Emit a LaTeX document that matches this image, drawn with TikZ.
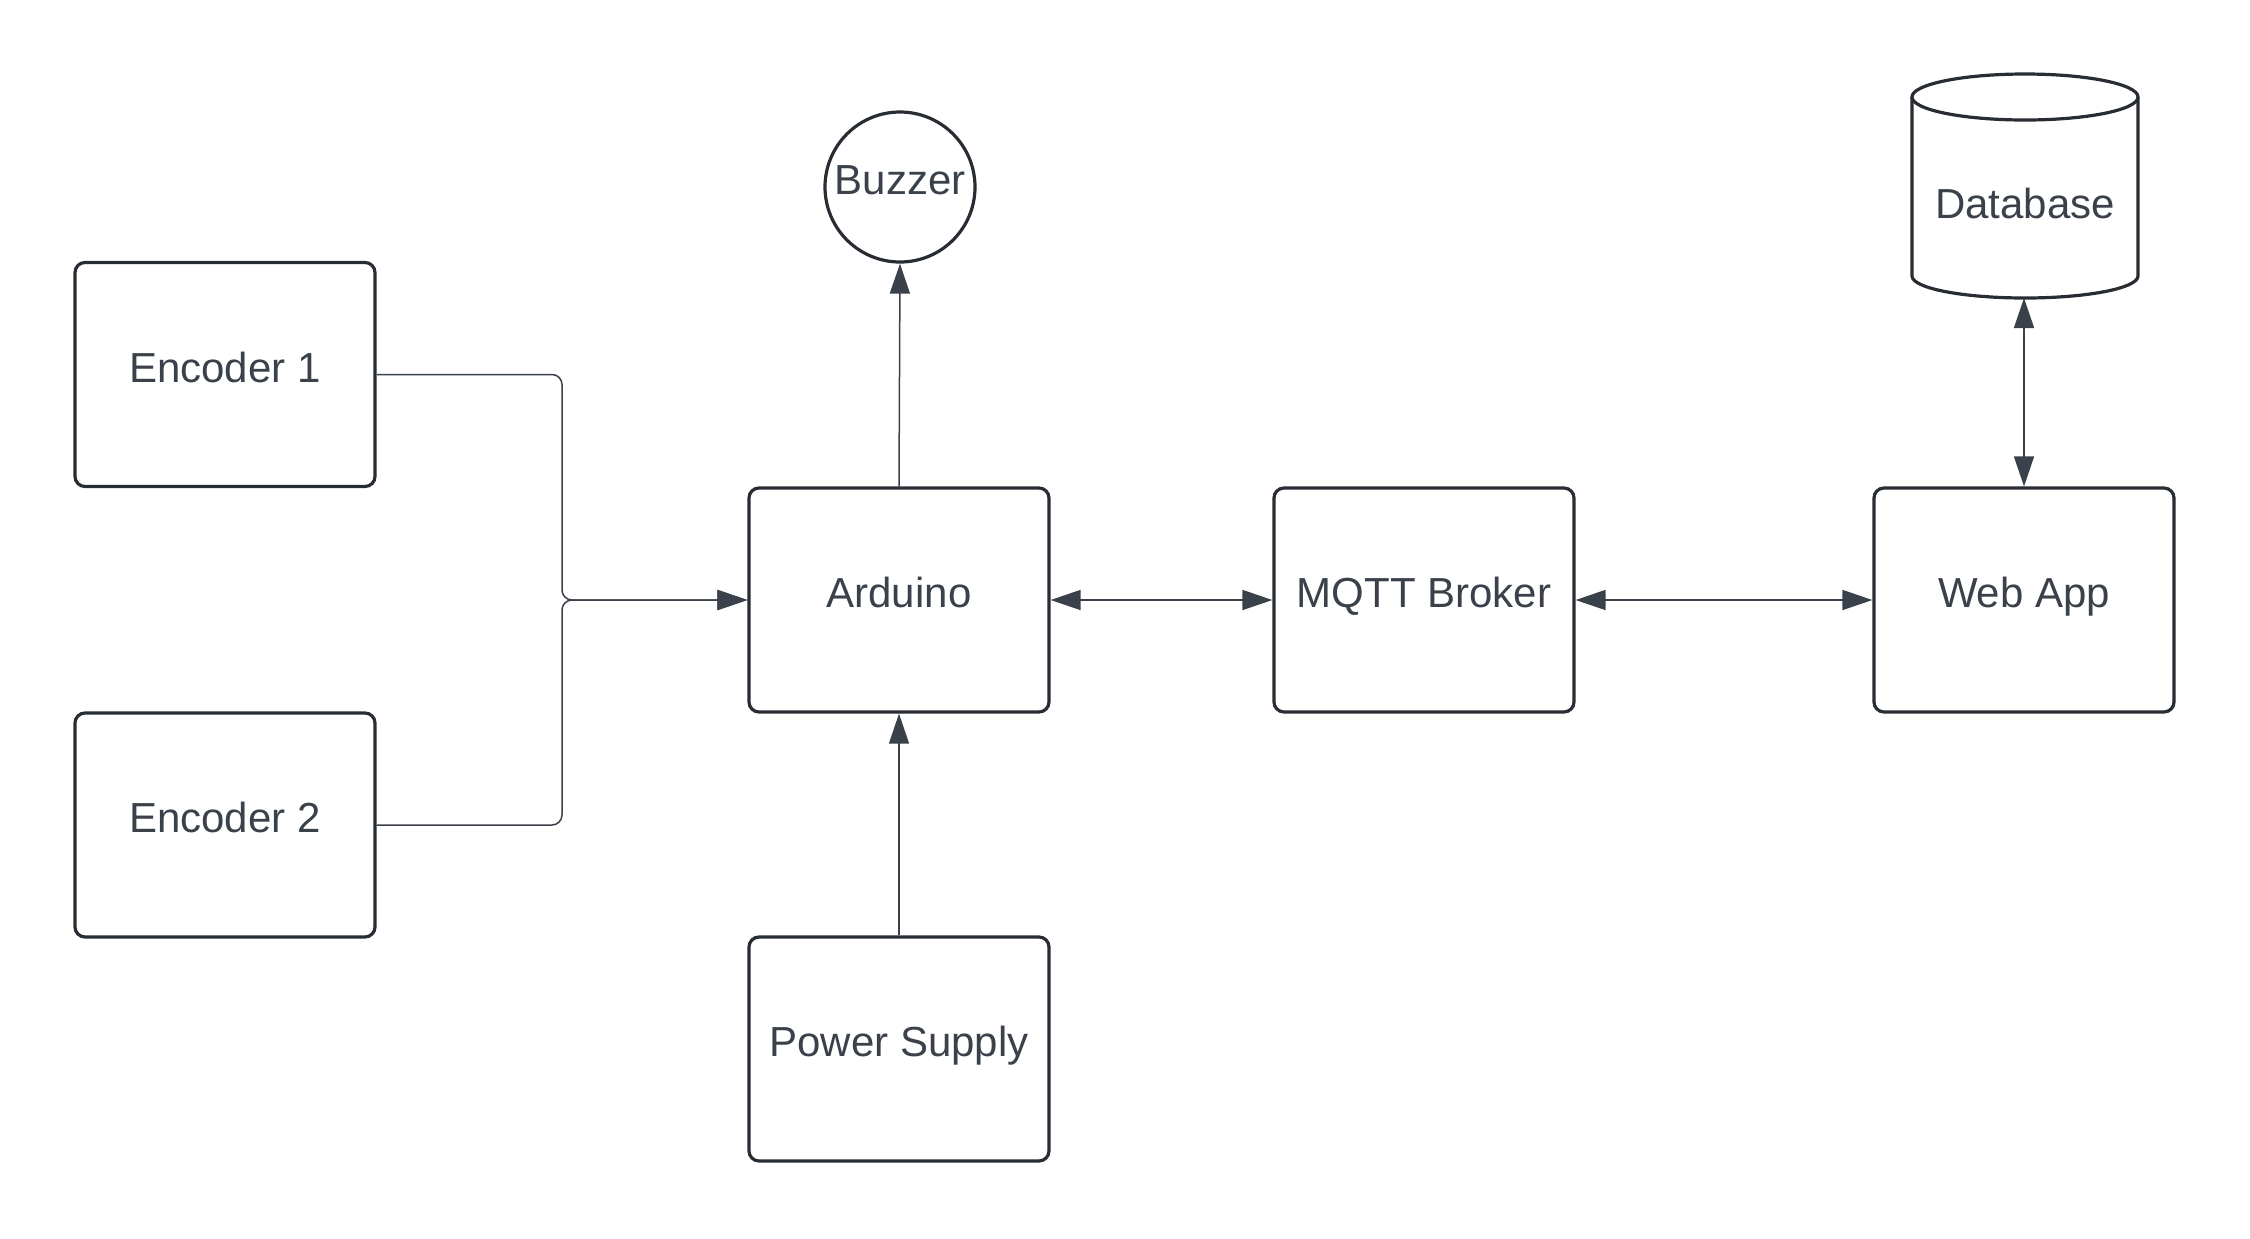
\documentclass[tikz,border=0pt]{standalone}
\usepackage{fontspec}
\setmainfont{Liberation Sans}
\usetikzlibrary{arrows.meta}
\definecolor{linec}{HTML}{282C33}
\definecolor{textc}{HTML}{3A414A}
\begin{document}
\begin{tikzpicture}[x=0.5pt,y=-0.5pt,
  lbl/.style={text=textc, font=\fontsize{21}{25}\selectfont, text height=0.78em, text depth=0em},
  box/.style={lbl, draw=linec, line width=1.6pt, rounded corners=5pt, fill=white,
    minimum width=150pt, minimum height=112pt, inner sep=0pt},
  conn/.style={draw=textc, line width=0.75pt, -{Triangle[length=15pt,width=10pt]}},
  bconn/.style={draw=textc, line width=0.75pt, {Triangle[length=15pt,width=10pt]}-{Triangle[length=15pt,width=10pt]}}]
\useasboundingbox (0,0) rectangle (2250,1238);
\node[box] (e1) at (225,374.5) {Encoder 1};
\node[box] (e2) at (225,825) {Encoder 2};
\node[box] (ard) at (899,600) {Arduino};
\node[box] (ps) at (899,1049) {Power Supply};
\node[box] (mq) at (1424,600) {MQTT Broker};
\node[box] (web) at (2024,600) {Web App};
\node[lbl, circle, draw=linec, line width=1.6pt, minimum size=75pt, inner sep=0pt] (bz) at (900,187) {Buzzer};
% database cylinder
\node[minimum width=113pt, minimum height=112pt, inner sep=0pt] (db) at (2025,186) {};
\fill[white] (1912,97) -- (1912,276) arc[start angle=180,end angle=360,x radius=56.5pt,y radius=11pt] -- (2138,97) -- cycle;
\draw[linec, line width=1.6pt, line join=round] (1912,97) -- (1912,276) arc[start angle=180,end angle=360,x radius=56.5pt,y radius=11pt] -- (2138,97);
\draw[linec, line width=1.6pt, fill=white] (2025,97) ellipse [x radius=56.5pt, y radius=11.5pt];
\node[lbl] (dbt) at (2025,211) {Database};
\coordinate (j) at (562,600);
\coordinate (dbb) at (2024,298);
% connectors
\draw[conn, rounded corners=5pt] (e1.east) -| (j) -- (ard.west);
\draw[conn, rounded corners=5pt] (e2.east) -| (j) -- (ard.west);
\draw[conn] (ard.north) -- (bz.south);
\draw[conn] (ps.north) -- (ard.south);
\draw[bconn] (ard.east) -- (mq.west);
\draw[bconn] (mq.east) -- (web.west);
\draw[bconn] (dbb) -- (web.north);
\end{tikzpicture}
\end{document}
